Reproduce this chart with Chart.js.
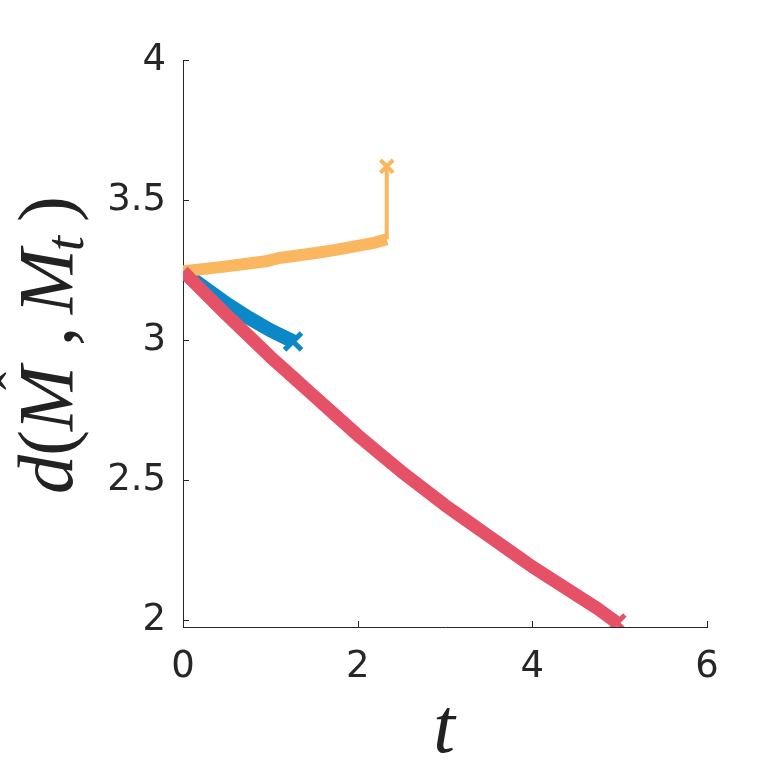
<!DOCTYPE html>
<html>
<head>
<meta charset="utf-8">
<script src="https://cdn.jsdelivr.net/npm/chart.js@4"></script>
<style>
html,body{margin:0;padding:0;background:#fff;}
#c{display:block;}
</style>
</head>
<body>
<canvas id="c" width="781" height="781"></canvas>
<script>
// ---- data ----
const xTicks = [0, 2, 4, 6];
const yTicks = [2, 2.5, 3, 3.5, 4];

const blueT = [0, 0.1, 0.25, 0.5, 0.75, 1.0, 1.26];
const blueV = [3.245, 3.22, 3.186, 3.13, 3.08, 3.035, 2.995];

const orangeT = [0, 0.25, 0.5, 0.75, 0.95, 1.1, 1.25, 1.5, 1.75, 2.0, 2.2, 2.333, 2.333];
const orangeV = [3.245, 3.254, 3.263, 3.273, 3.281, 3.293, 3.299, 3.31, 3.322, 3.336, 3.348, 3.36, 3.62];

const redT = [0, 0.25, 0.5, 0.75, 1.0, 1.25, 1.5, 1.75, 2.0, 2.25, 2.5, 2.75, 3.0, 3.25, 3.5, 3.75, 4.0, 4.25, 4.5, 4.75, 4.97];
const redV = [3.245, 3.167, 3.09, 3.015, 2.94, 2.87, 2.80, 2.73, 2.66, 2.595, 2.53, 2.47, 2.41, 2.355, 2.30, 2.245, 2.19, 2.14, 2.09, 2.04, 1.99];

const BLUE = '#0a88c8', ORANGE = '#fbb760', RED = '#e55268', AXIS = '#262626';

function pts(t, v) { return t.map((x, i) => ({x: x, y: v[i]})); }
const lastOnly = (n, r) => (ctx) => (ctx.dataIndex === n - 1 ? r : 0);

const orangeBand = pts(orangeT.slice(0, -1), orangeV.slice(0, -1));
const orangeJump = pts(orangeT.slice(-2), orangeV.slice(-2));

const inwardTicks = {
  id: 'inwardTicks',
  afterDraw(chart) {
    const c = chart.ctx, xs = chart.scales.x, ys = chart.scales.y;
    c.save();
    c.strokeStyle = AXIS; c.lineWidth = 1;
    const L = 6;
    c.beginPath();
    xTicks.forEach(v => {
      const px = Math.round(xs.getPixelForValue(v)) + 0.5;
      c.moveTo(px, ys.bottom); c.lineTo(px, ys.bottom - L);
    });
    yTicks.forEach(v => {
      const py = Math.round(ys.getPixelForValue(v)) + 0.5;
      c.moveTo(xs.left, py); c.lineTo(xs.left + L, py);
    });
    c.stroke();
    c.restore();
  }
};

const axisTitles = {
  id: 'axisTitles',
  afterDraw(chart) {
    const c = chart.ctx;
    c.save();
    c.fillStyle = '#222';
    // x title
    c.font = 'italic 78px "Liberation Serif"';
    c.textAlign = 'center';
    c.textBaseline = 'alphabetic';
    c.fillText('t', 444, 752);
    // y title, rotated
    c.translate(72, 494);
    c.rotate(-Math.PI / 2);
    c.textAlign = 'left';
    const it = 'italic 78px "Liberation Serif"';
    const rm = '78px "Liberation Serif"';
    c.font = it; c.fillText('d', 0, 0);
    c.font = rm; c.fillText('(', 38, 0);
    c.font = it; c.fillText('M', 63, 0);
    c.font = '54px "Liberation Serif"';
    c.textAlign = 'center';
    c.fillText('\u02C6', 113, -36);
    c.textAlign = 'left';
    c.font = rm; c.fillText(',', 148, 0);
    c.font = it; c.fillText('M', 180, 0);
    c.font = 'italic 54px "Liberation Serif"'; c.fillText('t', 243, 11);
    c.font = rm; c.fillText(')', 272, 0);
    c.restore();
  }
};

new Chart(document.getElementById('c'), {
  type: 'scatter',
  data: {
    datasets: [
      {
        label: 'red', data: pts(redT, redV), showLine: true,
        borderColor: RED, backgroundColor: RED, borderWidth: 13,
        pointStyle: 'crossRot', pointRadius: lastOnly(redT.length, 11), pointBorderWidth: 5,
        pointBorderColor: RED, order: 1
      },
      {
        label: 'orange', data: orangeBand, showLine: true,
        borderColor: ORANGE, backgroundColor: ORANGE, borderWidth: 12,
        pointStyle: 'crossRot', pointRadius: 0, order: 2
      },
      {
        label: 'orange jump', data: orangeJump, showLine: true,
        borderColor: ORANGE, backgroundColor: ORANGE, borderWidth: 4,
        pointStyle: 'crossRot', pointRadius: lastOnly(2, 9), pointBorderWidth: 4,
        pointBorderColor: ORANGE, order: 2
      },
      {
        label: 'blue', data: pts(blueT, blueV), showLine: true,
        borderColor: BLUE, backgroundColor: BLUE, borderWidth: 14,
        pointStyle: 'crossRot', pointRadius: lastOnly(blueT.length, 12), pointBorderWidth: 5,
        pointBorderColor: BLUE, order: 3
      }
    ]
  },
  options: {
    responsive: false,
    animation: false,
    devicePixelRatio: 1,
    layout: { padding: { top: 60, right: 74, left: 0, bottom: 0 } },
    plugins: { legend: { display: false }, tooltip: { enabled: false } },
    elements: { line: { tension: 0, borderJoinStyle: 'round', borderCapStyle: 'butt' } },
    scales: {
      x: {
        type: 'linear', min: 0, max: 6,
        grid: { display: false, drawTicks: false },
        border: { display: true, color: AXIS, width: 1 },
        afterBuildTicks: (s) => { s.ticks = xTicks.map(v => ({value: v})); },
        afterFit: (s) => { s.height = 154; },
        ticks: { color: AXIS, padding: 18, font: { family: '"DejaVu Sans"', size: 37 }, maxRotation: 0 }
      },
      y: {
        type: 'linear', min: 1.975, max: 4,
        grid: { display: false, drawTicks: false },
        border: { display: true, color: AXIS, width: 1 },
        afterBuildTicks: (s) => { s.ticks = yTicks.map(v => ({value: v})); },
        afterFit: (s) => { s.width = 183; },
        ticks: { color: AXIS, padding: 17, font: { family: '"DejaVu Sans"', size: 37 },
                 callback: (v) => String(v) }
      }
    }
  },
  plugins: [inwardTicks, axisTitles]
});
</script>
</body>
</html>
